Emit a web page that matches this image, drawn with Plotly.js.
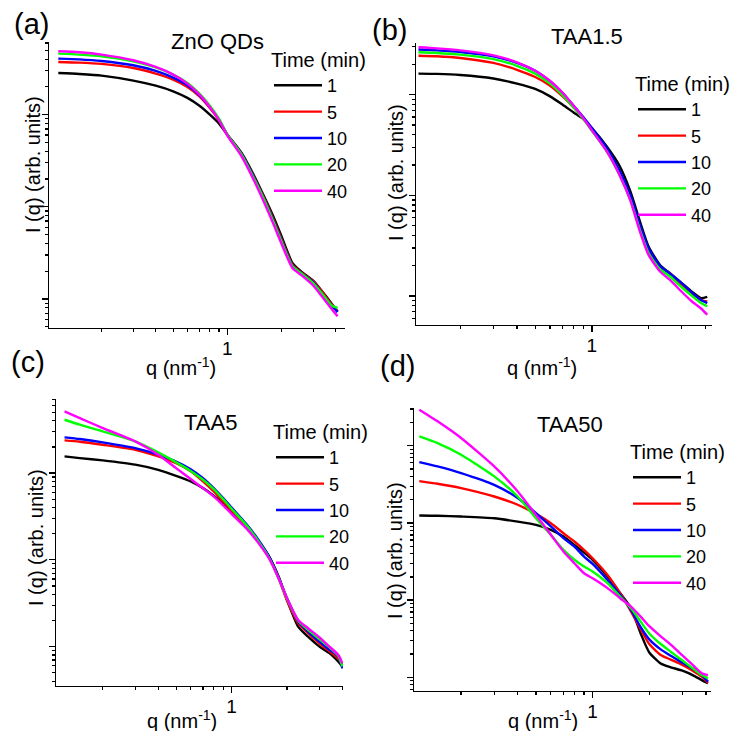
<!DOCTYPE html>
<html>
<head>
<meta charset="utf-8">
<script src="https://cdn.plot.ly/plotly-3.0.1.min.js"></script>
<style>html,body{margin:0;padding:0;background:#fff;}#chart{width:737px;height:731px;}</style>
</head>
<body>
<div id="chart"></div>
<script>
// ---------- data ----------
const seriesNames = ['1', '5', '10', '20', '40'];
const seriesColors = ['#000000', '#ff0000', '#0000ff', '#00ff00', '#ff00ff'];
const panelTitles = ['ZnO QDs', 'TAA1.5', 'TAA5', 'TAA50'];
const panelLabels = ['(a)', '(b)', '(c)', '(d)'];
const xTickLabel = '1';

// (a) ZnO QDs
const qA = [0.115, 0.15, 0.2, 0.3, 0.4, 0.5, 0.6, 0.7, 0.8, 0.9, 1.0, 1.2, 1.4, 1.6, 1.8, 2.0, 2.3, 2.6, 3.0, 3.4, 3.8, 4.1];
const a1  = [283, 276, 265, 234, 206, 179, 152, 125, 100, 79.9, 60.7, 38.4, 22.3, 13.0, 7.89, 4.79, 2.46, 1.95, 1.58, 1.18, 0.89, 0.73];
const a5  = [373, 367, 355, 321, 279, 240, 200, 158, 118, 86.8, 60.7, 37.8, 21.4, 12.5, 7.38, 4.48, 2.36, 1.91, 1.56, 1.16, 0.87, 0.73];
const a10 = [405, 398, 382, 343, 298, 252, 208, 162, 121, 88.3, 60.7, 37.4, 21.1, 12.2, 7.14, 4.33, 2.30, 1.88, 1.52, 1.11, 0.85, 0.72];
const a20 = [459, 448, 430, 379, 326, 272, 221, 169, 125, 89.7, 60.7, 36.8, 20.6, 12.0, 6.96, 4.22, 2.26, 1.87, 1.49, 1.11, 0.85, 0.80];
const a40 = [487, 475, 448, 389, 329, 272, 217, 165, 121, 86.8, 59.2, 35.3, 19.7, 11.2, 6.57, 3.98, 2.17, 1.79, 1.40, 1.03, 0.78, 0.65];

// (b) TAA1.5
const qB = [0.12, 0.15, 0.2, 0.3, 0.4, 0.5, 0.6, 0.7, 0.8, 0.9, 1.0, 1.2, 1.4, 1.6, 1.8, 2.0, 2.3, 2.6, 3.0, 3.4, 3.8, 4.1];
const b1  = [162, 161, 157, 145, 129, 114, 96.2, 79.5, 66.7, 57.3, 46.6, 30.6, 19.8, 11.0, 5.5, 3.1, 2.03, 1.68, 1.34, 1.10, 0.95, 0.98];
const b5  = [244, 241, 232, 207, 177, 150, 123, 96.2, 74.8, 58.6, 44.9, 28.4, 17.3, 9.73, 4.90, 2.87, 1.96, 1.66, 1.29, 1.06, 0.91, 0.88];
const b10 = [281, 276, 266, 241, 207, 173, 136, 104, 77.8, 60.0, 46.6, 29.5, 17.7, 10.1, 5.09, 2.98, 1.99, 1.66, 1.34, 1.08, 0.91, 0.85];
const b20 = [264, 260, 250, 226, 194, 162, 129, 98.5, 74.8, 57.3, 43.8, 27.3, 16.0, 9.02, 4.54, 2.66, 1.84, 1.56, 1.22, 1.00, 0.85, 0.79];
const b40 = [296, 289, 276, 246, 210, 173, 137, 104, 77.8, 58.6, 44.2, 27.3, 16.0, 8.89, 4.37, 2.56, 1.75, 1.44, 1.10, 0.88, 0.75, 0.65];

// (c) TAA5
const qC = [0.124, 0.15, 0.2, 0.3, 0.4, 0.5, 0.6, 0.7, 0.8, 0.9, 1.0, 1.2, 1.4, 1.6, 1.8, 2.0, 2.3, 2.6, 3.0, 3.4, 3.8, 4.0];
const c1  = [156, 149, 140, 125, 109, 93.1, 80.2, 67.1, 54.7, 44.3, 36.1, 24.2, 16.3, 10.9, 6.42, 3.45, 1.70, 1.30, 1.00, 0.84, 0.67, 0.59];
const c5  = [238, 230, 212, 186, 156, 130, 105, 80.2, 61.4, 47.1, 37.1, 24.7, 16.3, 10.7, 6.14, 3.40, 1.86, 1.43, 1.09, 0.88, 0.73, 0.61];
const c10 = [258, 247, 226, 194, 163, 136, 111, 87.5, 67.1, 51.5, 40.2, 26.0, 17.0, 10.9, 6.31, 3.61, 1.94, 1.49, 1.14, 0.92, 0.77, 0.56];
const c20 = [412, 361, 303, 232, 173, 133, 106, 83.8, 65.4, 50.1, 38.8, 25.3, 16.3, 10.5, 6.14, 3.55, 2.00, 1.56, 1.22, 0.98, 0.78, 0.59];
const c40 = [515, 431, 330, 232, 163, 114, 85.3, 67.1, 53.8, 42.4, 33.9, 23.2, 15.6, 10.3, 6.14, 3.61, 2.03, 1.63, 1.28, 1.00, 0.80, 0.64];

// (d) TAA50
const qD = [0.12, 0.15, 0.2, 0.3, 0.4, 0.5, 0.6, 0.7, 0.8, 0.9, 1.0, 1.2, 1.4, 1.6, 1.8, 2.0, 2.3, 2.6, 3.0, 3.4, 3.8, 4.1];
const d1  = [125, 124, 121, 115, 104, 94.6, 81.5, 66.7, 52.0, 41.4, 33.3, 20.2, 12.3, 7.85, 3.7, 2.1, 1.51, 1.35, 1.22, 1.07, 0.92, 0.84];
const d5  = [348, 322, 283, 220, 172, 131, 99.4, 73.7, 57.5, 44.8, 34.9, 21.2, 12.3, 7.11, 4.2, 2.7, 1.95, 1.70, 1.45, 1.22, 1.02, 0.85];
const d10 = [615, 540, 443, 312, 210, 134, 90.0, 63.5, 49.5, 36.7, 29.5, 18.3, 11.7, 7.47, 4.46, 3.1, 2.3, 1.90, 1.55, 1.29, 1.07, 0.88];
const d20 = [1322, 1084, 765, 401, 220, 115, 70.2, 44.8, 33.3, 27.3, 23.5, 16.6, 11.1, 7.85, 5.27, 3.7, 2.7, 2.15, 1.65, 1.31, 1.07, 0.97];
const d40 = [2932, 2070, 1259, 540, 256, 127, 70.2, 42.7, 30.1, 22.3, 19.2, 14.3, 10.6, 8.25, 6.12, 4.6, 3.4, 2.65, 1.92, 1.45, 1.13, 1.07];

// ---------- build ----------
const W = 737, H = 731;
const FONT = 'Liberation Sans, Arial, Helvetica, sans-serif';
const px = v => v / W;
const py = v => 1 - v / H;

const panels = [
  {q: qA, ys: [a1, a5, a10, a20, a40], x: [49, 345], y: [42, 328], xr: [-0.991, 0.654], yr: [-0.315, 2.788], ymaj: [1, 10, 100], leg: [269, 41]},
  {q: qB, ys: [b1, b5, b10, b20, b40], x: [416, 712], y: [43, 325], xr: [-0.934, 0.638], yr: [-0.289, 2.514], ymaj: [1, 10, 100], leg: [633, 65]},
  {q: qC, ys: [c1, c5, c10, c20, c40], x: [56, 343], y: [399, 686], xr: [-0.953, 0.605], yr: [-0.454, 2.854], ymaj: [1, 10, 100], leg: [271, 413]},
  {q: qD, ys: [d1, d5, d10, d20, d40], x: [414, 711], y: [408, 691], xr: [-0.949, 0.629], yr: [-0.177, 3.489], ymaj: [1, 10, 100, 1000], leg: [628, 433]}
];

const xMinor = [0.2, 0.3, 0.4, 0.5, 0.6, 0.7, 0.8, 0.9, 2, 3, 4];

function yMinorFor(yr) {
  const out = [];
  for (let e = Math.floor(yr[0]); e <= Math.ceil(yr[1]); e++) {
    for (let m = 2; m <= 9; m++) {
      const v = m * Math.pow(10, e);
      const l = Math.log10(v);
      if (l >= yr[0] && l <= yr[1]) out.push(v);
    }
  }
  return out;
}

const data = [];
const layout = {
  width: W, height: H,
  margin: {l: 0, r: 0, t: 0, b: 0},
  paper_bgcolor: '#ffffff', plot_bgcolor: 'rgba(0,0,0,0)',
  font: {family: FONT, color: '#000', size: 19},
  showlegend: true,
  annotations: []
};

panels.forEach((p, i) => {
  const n = i + 1;
  const xa = n === 1 ? 'x' : 'x' + n;
  const ya = n === 1 ? 'y' : 'y' + n;
  const lg = n === 1 ? 'legend' : 'legend' + n;
  p.ys.forEach((ys, k) => {
    data.push({
      type: 'scatter', mode: 'lines', x: p.q, y: ys,
      name: seriesNames[k], xaxis: xa, yaxis: ya, legend: lg,
      line: {color: seriesColors[k], width: 2.4, shape: 'spline', smoothing: 0.6}
    });
  });
  const axCommon = {
    type: 'log', showgrid: false, zeroline: false, showline: true,
    linecolor: '#000', linewidth: 1.4, ticks: 'outside', tickcolor: '#000', tickwidth: 1.3
  };
  layout[n === 1 ? 'xaxis' : 'xaxis' + n] = Object.assign({}, axCommon, {
    domain: [px(p.x[0]), px(p.x[1])], range: p.xr, anchor: ya,
    tickmode: 'array', tickvals: [1], ticktext: [xTickLabel], ticklen: 6,
    ticklabelstandoff: -3,
    tickfont: {size: 19, family: FONT, color: '#000'},
    minor: {tickmode: 'array', tickvals: xMinor, ticklen: 3, tickwidth: 1.2, tickcolor: '#000', ticks: 'outside', showgrid: false}
  });
  layout[n === 1 ? 'yaxis' : 'yaxis' + n] = Object.assign({}, axCommon, {
    domain: [py(p.y[1]), py(p.y[0])], range: p.yr, anchor: xa,
    tickmode: 'array', tickvals: p.ymaj, showticklabels: false, ticklen: 6,
    minor: {tickmode: 'array', tickvals: yMinorFor(p.yr), ticklen: 3, tickwidth: 1.2, tickcolor: '#000', ticks: 'outside', showgrid: false}
  });
  layout[lg] = {
    x: px(p.leg[0]), y: py(p.leg[1]), xanchor: 'left', yanchor: 'top',
    bgcolor: 'rgba(0,0,0,0)', borderwidth: 0, itemwidth: 48,
    font: {family: FONT, size: 18, color: '#000'},
    title: {text: 'Time (min)', font: {family: FONT, size: 20, color: '#000'}},
    tracegroupgap: 0
  };
});

const ann = (text, x, y, size, extra) => Object.assign({
  text: text, xref: 'paper', yref: 'paper', x: px(x), y: py(y),
  xanchor: 'center', yanchor: 'middle', showarrow: false,
  font: {family: FONT, size: size, color: '#000'}
}, extra || {});

// panel labels
[[31, 24], [389, 30], [28, 362], [397, 366]].forEach((c, i) =>
  layout.annotations.push(ann(panelLabels[i], c[0], c[1], 29)));
// panel titles
[[217, 41], [587, 37], [211, 422], [570, 424]].forEach((c, i) =>
  layout.annotations.push(ann(panelTitles[i], c[0], c[1], 22)));
// x-axis titles
[[181, 366], [542, 366], [182, 719], [543, 719]].forEach(c =>
  layout.annotations.push(ann('q (nm<sup>-1</sup>)', c[0], c[1], 20)));
// y-axis titles
[[33, 165], [396, 173], [36, 538], [395, 551]].forEach(c =>
  layout.annotations.push(ann('I (q) (arb. units)', c[0], c[1], 20, {textangle: -90})));

Plotly.newPlot('chart', data, layout, {staticPlot: true, displayModeBar: false});
</script>
</body>
</html>
